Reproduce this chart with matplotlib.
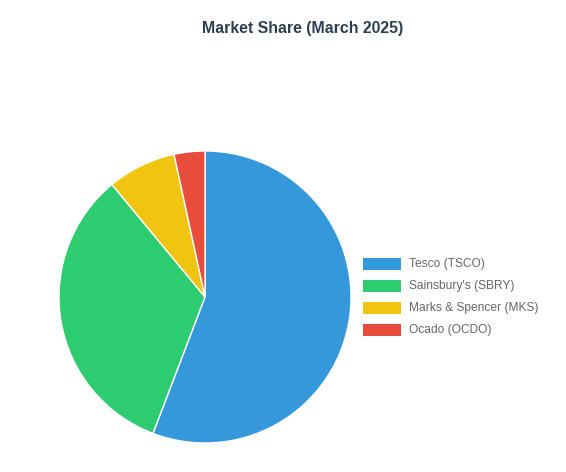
import matplotlib.pyplot as plt
from matplotlib.patches import Rectangle

plt.rcParams['font.family'] = ['Liberation Sans', 'DejaVu Sans']

companies = ["Tesco (TSCO)", "Sainsbury's (SBRY)", "Marks & Spencer (MKS)", "Ocado (OCDO)"]
share = [27.9, 16.6, 3.8, 1.7]
colors = ["#3498db", "#2ecc71", "#f1c40f", "#e74c3c"]

fig = plt.figure(figsize=(5.66, 4.72), dpi=100)
ax = fig.add_axes([59 / 566, 29 / 472, 292 / 566, 292 / 472])
ax.pie(share, colors=colors, startangle=90, counterclock=False, radius=1,
       wedgeprops=dict(edgecolor="white", linewidth=1))
ax.set_xlim(-1, 1)
ax.set_ylim(-1, 1)
ax.set_aspect("auto")
ax.axis("off")

fig.text(302.5 / 566, 1 - 29 / 472, "Market Share (March 2025)", ha="center", va="center",
         fontsize=11.4, fontweight="bold", color="#2c3e50")

# legend drawn by hand to match spacing
for i, (name, c) in enumerate(zip(companies, colors)):
    yc = 264 + 22 * i
    fig.add_artist(Rectangle((363 / 566, 1 - (yc + 6) / 472), 38 / 566, 12 / 472,
                             transform=fig.transFigure, facecolor=c, edgecolor="none"))
    fig.text(409 / 566, 1 - yc / 472, name, ha="left", va="center", fontsize=8.65, color="#666666")

fig.savefig("out.png", dpi=100)
